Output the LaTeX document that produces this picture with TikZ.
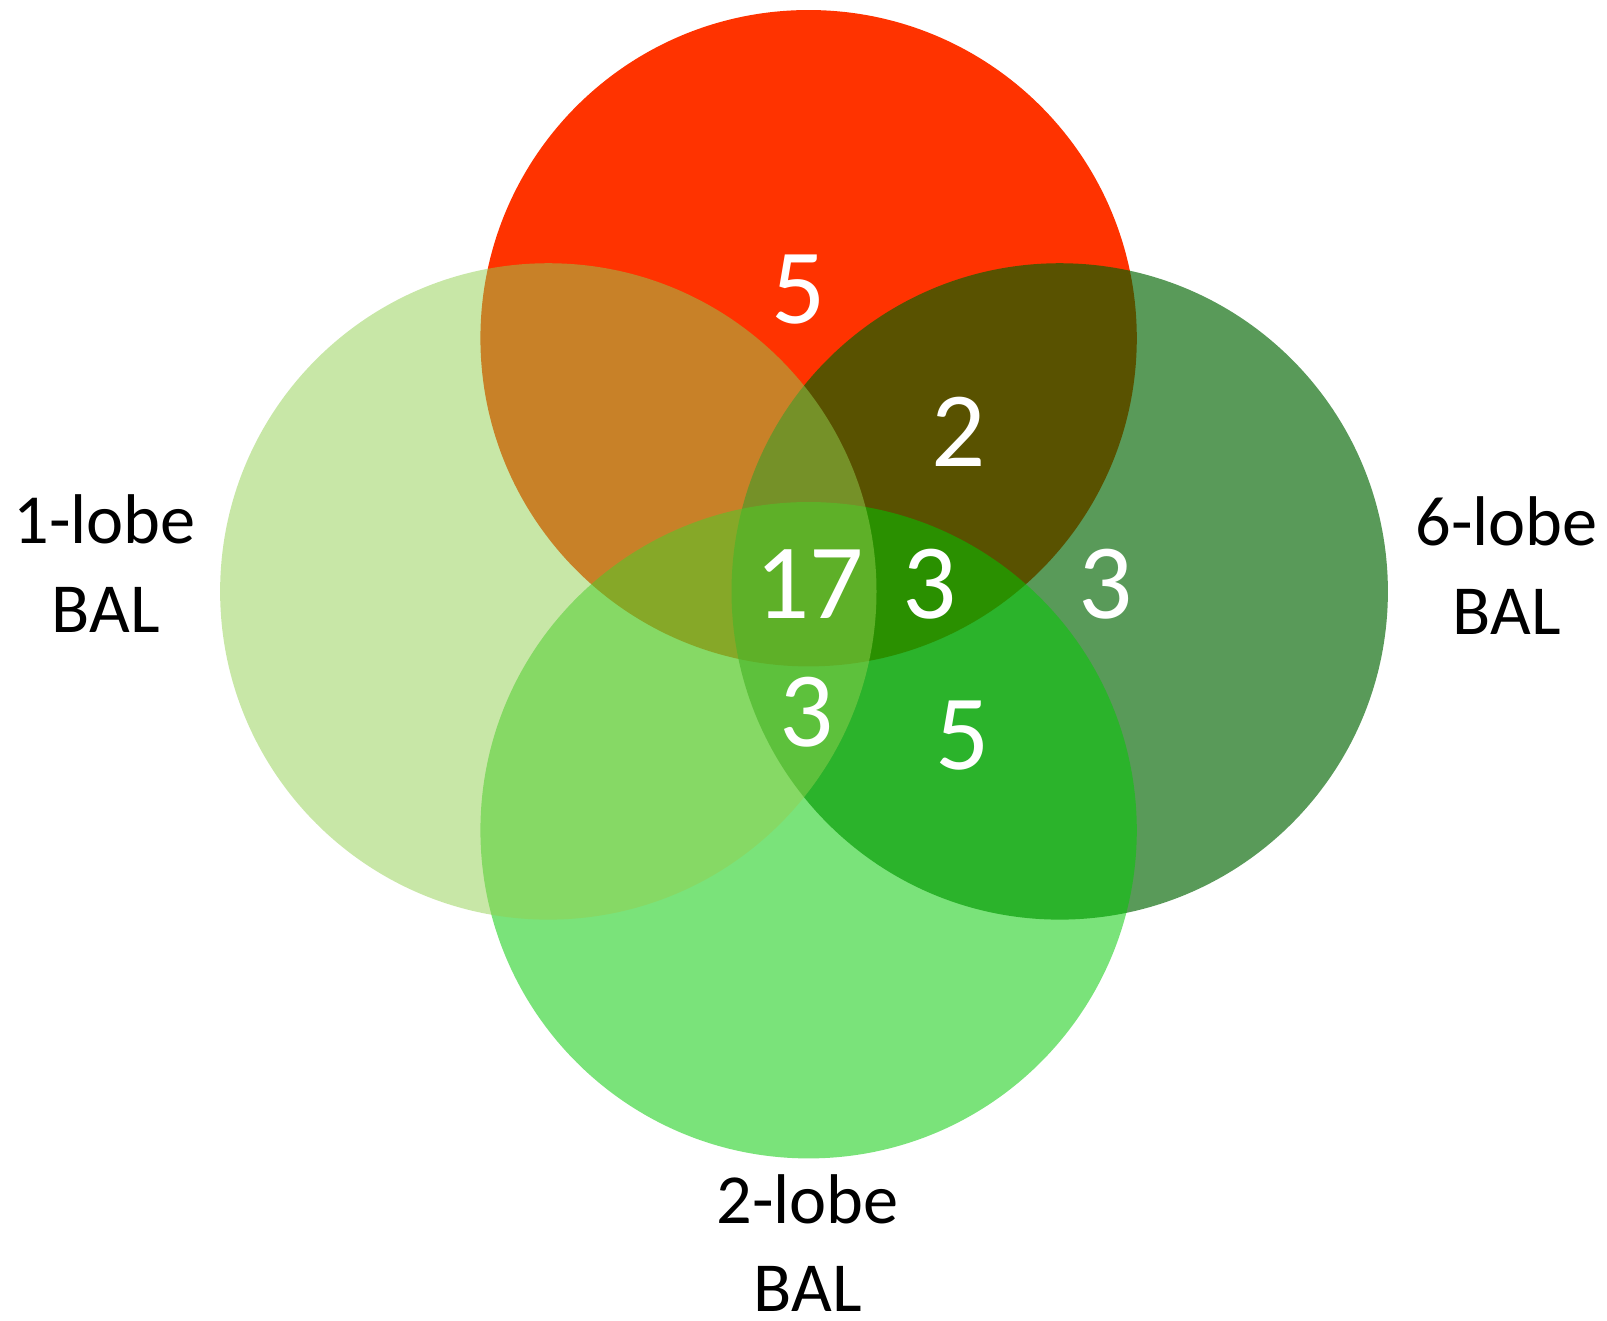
\documentclass[tikz,border=0pt]{standalone}
\usepackage{fontspec}
\setmainfont{Carlito}
\definecolor{cT}{RGB}{255,51,0}
\definecolor{cR}{RGB}{0,100,0}
\definecolor{cB}{RGB}{0,201,0}
\definecolor{cL}{RGB}{146,208,80}
\begin{document}
\begin{tikzpicture}[x=0.01cm,y=-0.01cm,
  num/.style={text=white,anchor=base,inner sep=0pt,font=\fontsize{30.4}{36}\selectfont},
  lab/.style={text=black,anchor=base,inner sep=0pt,font=\fontsize{20}{25.3}\selectfont}]
\useasboundingbox (0,0) rectangle (1607,1320);
\fill[cT] (808.6,338.2) circle [radius=3.28cm];
\fill[cR,fill opacity=0.65] (1059.7,591.4) circle [radius=3.28cm];
\fill[cB,fill opacity=0.52] (808.6,830.2) circle [radius=3.28cm];
\fill[cL,fill opacity=0.5] (548.3,591.4) circle [radius=3.28cm];
\node[num] (n1) at (799,323.9) {5};
\node[num] (n2) at (958.3,466.3) {2};
\node[num] (n3) at (809.7,618) {17};
\node[num] (n4) at (929.6,618) {3};
\node[num] (n5) at (1105.9,618) {3};
\node[num] (n6) at (806.6,746.1) {3};
\node[num] (n7) at (962.4,769.7) {5};
\node[lab] (l1a) at (104.6,543) {1-lobe};
\node[lab] (l1b) at (105.6,632.4) {BAL};
\node[lab] (l6a) at (1506.6,545) {6-lobe};
\node[lab] (l6b) at (1506.6,634) {BAL};
\node[lab] (l2a) at (807.6,1223) {2-lobe};
\node[lab] (l2b) at (807.6,1311) {BAL};
\end{tikzpicture}
\end{document}
